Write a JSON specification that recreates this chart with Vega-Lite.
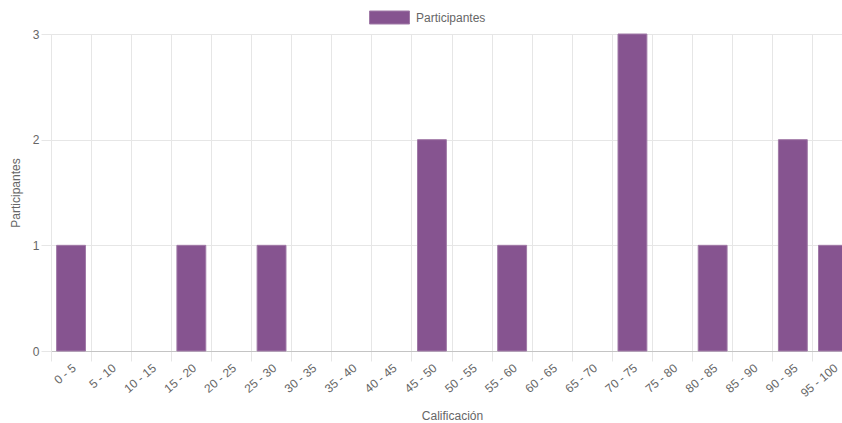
{
  "$schema": "https://vega.github.io/schema/vega-lite/v6.json",
  "width": 791,
  "height": 317,
  "autosize": {"type": "none"},
  "padding": {"left": 51, "top": 34, "right": 0, "bottom": 72},
  "background": "white",
  "config": {
    "view": {"stroke": null},
    "font": "Liberation Sans",
    "axis": {"labelFont": "Liberation Sans", "titleFont": "Liberation Sans", "labelColor": "#666666", "titleColor": "#666666", "labelFontSize": 12, "titleFontSize": 12, "titleFontWeight": "normal"}
  },
  "data": {
    "values": [
      {"rango": "0 - 5", "participantes": 1, "serie": "Participantes"},
      {"rango": "5 - 10", "participantes": 0, "serie": "Participantes"},
      {"rango": "10 - 15", "participantes": 0, "serie": "Participantes"},
      {"rango": "15 - 20", "participantes": 1, "serie": "Participantes"},
      {"rango": "20 - 25", "participantes": 0, "serie": "Participantes"},
      {"rango": "25 - 30", "participantes": 1, "serie": "Participantes"},
      {"rango": "30 - 35", "participantes": 0, "serie": "Participantes"},
      {"rango": "35 - 40", "participantes": 0, "serie": "Participantes"},
      {"rango": "40 - 45", "participantes": 0, "serie": "Participantes"},
      {"rango": "45 - 50", "participantes": 2, "serie": "Participantes"},
      {"rango": "50 - 55", "participantes": 0, "serie": "Participantes"},
      {"rango": "55 - 60", "participantes": 1, "serie": "Participantes"},
      {"rango": "60 - 65", "participantes": 0, "serie": "Participantes"},
      {"rango": "65 - 70", "participantes": 0, "serie": "Participantes"},
      {"rango": "70 - 75", "participantes": 3, "serie": "Participantes"},
      {"rango": "75 - 80", "participantes": 0, "serie": "Participantes"},
      {"rango": "80 - 85", "participantes": 1, "serie": "Participantes"},
      {"rango": "85 - 90", "participantes": 0, "serie": "Participantes"},
      {"rango": "90 - 95", "participantes": 2, "serie": "Participantes"},
      {"rango": "95 - 100", "participantes": 1, "serie": "Participantes"}
    ]
  },
  "layer": [
    {
      "mark": {"type": "text", "text": "", "opacity": 0},
      "encoding": {
        "x": {
          "field": "rango",
          "type": "ordinal",
          "sort": null,
          "scale": {"type": "band", "paddingInner": 0, "paddingOuter": 0, "range": [0, 802]},
          "axis": {
            "orient": "bottom",
            "title": "Calificación",
            "grid": false,
            "ticks": false,
            "domain": false,
            "labelAngle": -40,
            "labelAlign": "right",
            "labelBaseline": "top",
            "labelPadding": 11,
            "titlePadding": 12
          }
        },
        "y": {"field": "participantes", "type": "quantitative"}
      }
    },
    {
      "transform": [{"filter": "datum.participantes > 0"}],
      "mark": {"type": "bar", "width": {"band": 0.72}, "stroke": "#a07aa7", "strokeWidth": 1},
      "encoding": {
        "x": {
          "field": "rango",
          "type": "ordinal",
          "sort": null,
          "axis": {
            "orient": "bottom",
            "labels": false,
            "title": null,
            "bandPosition": 0,
            "grid": true,
            "gridColor": "#e6e6e6",
            "tickColor": "#e6e6e6",
            "tickSize": 10,
            "domainColor": "#c4c4c4"
          }
        },
        "y": {
          "field": "participantes",
          "type": "quantitative",
          "scale": {"domain": [0, 3], "nice": false},
          "axis": {
            "title": "Participantes",
            "values": [0, 1, 2, 3],
            "format": "d",
            "grid": true,
            "gridColor": "#e6e6e6",
            "tickColor": "#e6e6e6",
            "tickSize": 10,
            "domainColor": "#e6e6e6",
            "labelPadding": 2,
            "titlePadding": 10
          }
        },
        "color": {
          "field": "serie",
          "type": "nominal",
          "scale": {"range": ["#865490"]},
          "legend": {
            "title": null,
            "orient": "none",
            "legendX": 318,
            "legendY": -37,
            "symbolType": "M-1,-0.325L1,-0.325L1,0.325L-1,0.325Z",
            "symbolSize": 1600,
            "symbolStrokeColor": "#a07aa7",
            "symbolStrokeWidth": 1,
            "symbolOpacity": 1,
            "labelFont": "Liberation Sans",
            "labelFontSize": 12,
            "labelColor": "#666666",
            "labelOffset": 6
          }
        }
      }
    }
  ],
  "resolve": {"axis": {"x": "independent"}}
}
